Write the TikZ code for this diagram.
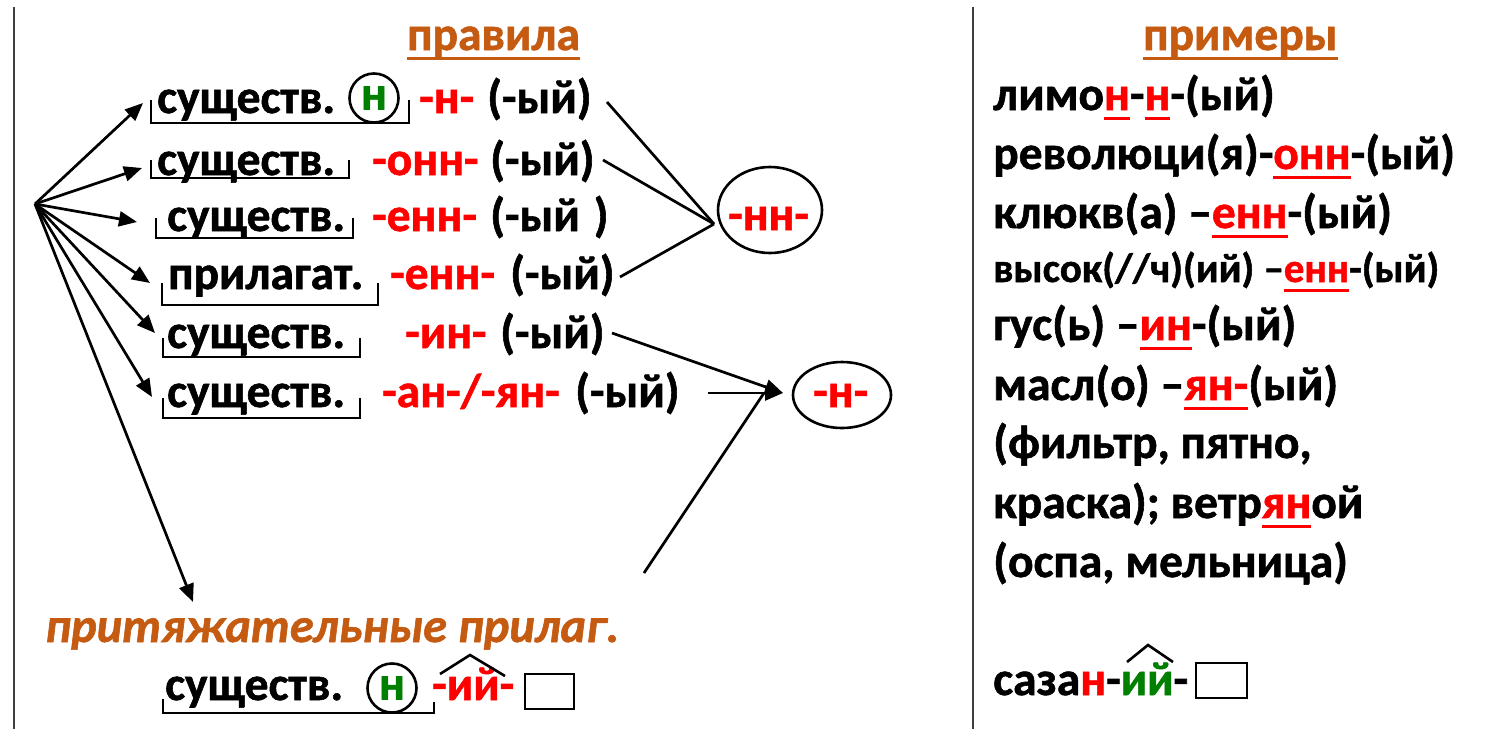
\documentclass[tikz,border=0pt]{standalone}
\usepackage{fontspec}
\setmainfont{Carlito}[BoldFeatures={FakeBold=1.2},BoldItalicFeatures={FakeBold=1.2}]
\usetikzlibrary{arrows.meta,shapes.geometric}
\definecolor{org}{RGB}{197,90,17}
\definecolor{grn}{RGB}{0,128,0}
\definecolor{rd}{RGB}{255,0,0}
\newcommand\ulc[2]{{\color{#1}\setbox0\hbox{#2}\rlap{\rule[-9.5pt]{\wd0}{3pt}}\box0}}
\newcommand\R[1]{\textcolor{rd}{#1}}
\begin{document}
\begin{tikzpicture}[x=1pt,y=-1pt,
  t/.style={inner sep=0pt, anchor=base west, font=\fontsize{47.5}{50}\selectfont\bfseries},
  ts/.style={t, font=\fontsize{41}{44}\selectfont\bfseries},
  ti/.style={t, font=\fontsize{48.5}{52}\selectfont\bfseries\itshape, text=org},
  ln/.style={line width=2.7pt},
  arr/.style={ln, -{Triangle[length=18pt,width=15pt]}},
  brk/.style={line width=2.6pt},
  oval/.style={ellipse, draw, line width=2.6pt, inner sep=0pt},
  ring/.style={circle, draw, line width=2.6pt, inner sep=0pt, minimum size=49pt,
    font=\fontsize{47.5}{50}\selectfont\bfseries},
  sep/.style={line width=2pt, black!75}]
\fill[white] (0,0) rectangle (1509,729);
\useasboundingbox (0,0) rectangle (1509,729);
% separators
\draw[sep] (14,7) -- (14,729);
\draw[sep] (973,7) -- (973,729);
% titles
\node[t] (tl) at (407,50) {\ulc{org}{правила}};
\node[t] (tr) at (1143,50) {\ulc{org}{примеры}};
% rows
\node[t] (r1a) at (157,113) {существ.};
\node[ring] (r1c) at (374,98) {\textcolor{grn}{н}};
\node[t] (r1b) at (419,113) {\R{-н-}};
\node[t] (r1d) at (487,113) {(-ый)};
\node[t] (r2a) at (157,175) {существ.};
\node[t] (r2b) at (372,175) {\R{-онн-}};
\node[t] (r2d) at (490,175) {(-ый)};
\node[t] (r3a) at (167,231) {существ.};
\node[t] (r3b) at (372,231) {\R{-енн-}};
\node[t] (r3d) at (490,231) {(-ый\hspace{14pt})};
\node[t] (r4a) at (168,289) {прилагат.};
\node[t] (r4b) at (390,289) {\R{-енн-}};
\node[t] (r4d) at (510,289) {(-ый)};
\node[t] (r5a) at (167,348) {существ.};
\node[t] (r5b) at (405,348) {\R{-ин-}};
\node[t] (r5d) at (500,348) {(-ый)};
\node[t] (r6a) at (167,407) {существ.};
\node[t] (r6b) at (382,407) {\R{-ан-/-ян-}};
\node[t] (r6d) at (575,407) {(-ый)};
% brackets
\draw[brk] (151,100) |- (409,123) -- (409,100);
\draw[brk] (151,160) |- (349,178) -- (349,160);
\draw[brk] (156,218) |- (353,238) -- (353,218);
\draw[brk] (162,283) |- (378,305) -- (378,283);
\draw[brk] (163,338) |- (360,357) -- (360,338);
\draw[brk] (163,398) |- (360,418) -- (360,398);
% fan
\coordinate (o) at (35,204);
\coordinate (a1) at (143,103);
\coordinate (a2) at (142,168);
\coordinate (a3) at (137,222);
\coordinate (a4) at (150,283);
\coordinate (a5) at (155,333);
\coordinate (a6) at (152,397);
\coordinate (a7) at (193,602);
\foreach \k in {1,...,7} \draw[arr] (o) -- (a\k);
% -нн-
\node[oval, minimum width=104pt, minimum height=86pt] (nn) at (770,210) {};
\node[t] (nnt) at (728,230) {\R{-нн-}};
\coordinate (e1) at (607,102);
\coordinate (e2) at (603,160);
\coordinate (e4) at (620,277);
\coordinate (nnin) at (714,224);
\draw[ln] (e1) -- (nnin);
\draw[ln] (e2) -- (nnin);
\draw[ln] (e4) -- (nnin);
% -н-
\node[oval, minimum width=98pt, minimum height=66pt] (n) at (842,395) {};
\node[t] (nt) at (813,407) {\R{-н-}};
\coordinate (e5) at (612,333);
\coordinate (e6) at (708,393);
\coordinate (nin) at (783,393);
\coordinate (b0) at (644,573);
\coordinate (bm) at (764,393);
\draw[arr] (e5) -- (nin);
\draw[arr] (e6) -- (nin);
\draw[ln] (b0) -- (bm);
% bottom
\node[ti] (pp) at (45,642) {притяжательные прилаг.};
\node[t] (ba) at (165,700) {существ.};
\node[ring] (bc) at (392,688) {\textcolor{grn}{н}};
\node[t] (bb) at (432,700) {\R{-ий-}};
\draw[brk] (163,699) |- (434,713) -- (434,702);
\draw[brk] (440,674) -- (470,655) -- (505,676);
\draw[brk] (525,674) rectangle (574,709);
% examples
\node[t] (x1) at (993,110) {лимо\ulc{rd}{н}-\ulc{rd}{н}-(ый)};
\node[t] (x2) at (993,169) {революци(я)-\ulc{rd}{онн}-(ый)};
\node[t] (x3) at (993,228) {клюкв(а) –\ulc{rd}{енн}-(ый)};
\node[ts] (x4) at (993,282) {высок(//ч)(ий) –\ulc{rd}{енн}-(ый)};
\node[t] (x5) at (993,340) {гус(ь) –\ulc{rd}{ин}-(ый)};
\node[t] (x6) at (993,400) {масл(о) –\ulc{rd}{ян-}(ый)};
\node[t] (x7) at (993,458) {(фильтр, пятно,};
\node[t] (x8) at (993,518) {краска); ветр\ulc{rd}{ян}ой};
\node[t] (x9) at (993,577) {(оспа, мельница)};
\node[t] (x10) at (993,695) {саза\R{н}-\textcolor{grn}{ий}-};
\draw[brk] (1127,662) -- (1148,645) -- (1173,662);
\draw[brk] (1196,663) rectangle (1247,698);
\end{tikzpicture}
\end{document}
